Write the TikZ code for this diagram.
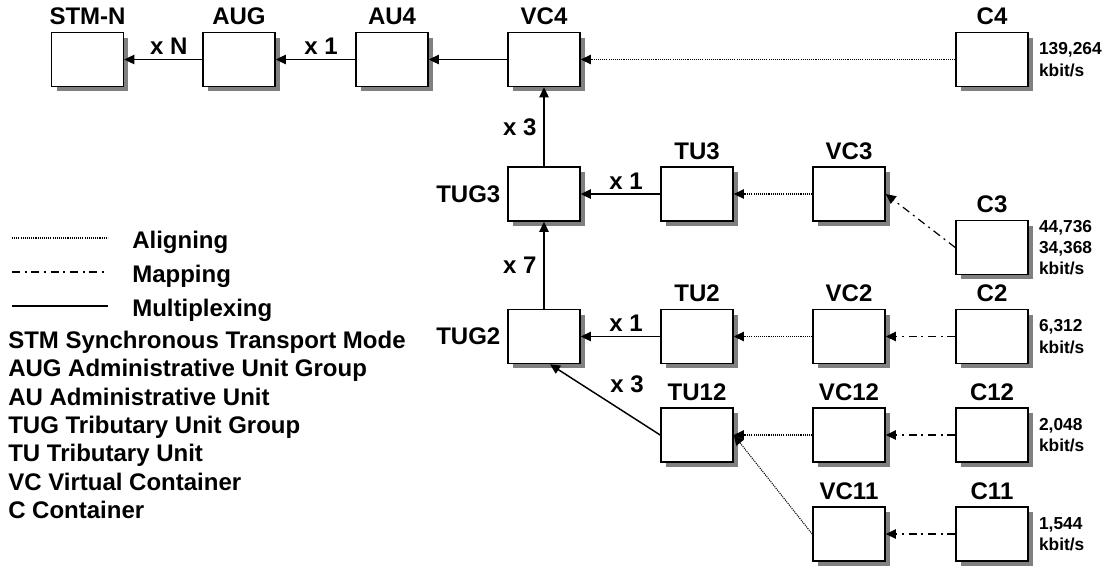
\documentclass[tikz,border=0pt]{standalone}
\usepackage{fontspec}
\setmainfont{Liberation Sans}
\usetikzlibrary{arrows.meta,calc}
\definecolor{shadowgray}{RGB}{128,128,128}
\begin{document}
\begin{tikzpicture}[x=0.75pt,y=-0.75pt,
  font=\bfseries\fontsize{18}{21}\selectfont,
  box/.style={draw, line width=1.2pt, fill=white, minimum width=54pt, minimum height=40.5pt, inner sep=0pt},
  shadowbox/.style={fill=shadowgray},
  lbl/.style={inner sep=0pt, label distance=5pt},
  rate/.style={font=\bfseries\fontsize{13}{16}\selectfont, align=left, anchor=west, inner sep=0pt},
  tip/.style={-{Triangle[length=7.5pt,width=7pt]}},
  muxln/.style={line width=1.1pt},
  alignln/.style={line width=0.8pt, dash pattern=on 0.8pt off 0.8pt},
  mapln/.style={line width=0.9pt, dash pattern=on 6pt off 3.5pt on 1.5pt off 3.5pt},
  mlab/.style={inner sep=0pt},
  leg/.style={anchor=base west, inner sep=0pt}]
\useasboundingbox (0,0) rectangle (1112,565);

% box centres
\coordinate (pSTM) at (87.5,59.5);
\coordinate (pAUG) at (239,59.5);
\coordinate (pAU4) at (392,59.5);
\coordinate (pVC4) at (544,59.5);
\coordinate (pC4) at (992,59.5);
\coordinate (pTUG3) at (544,194);
\coordinate (pTU3) at (697,194);
\coordinate (pVC3) at (849,194);
\coordinate (pC3) at (992,247.5);
\coordinate (pTUG2) at (544,336.5);
\coordinate (pTU2) at (697,336.5);
\coordinate (pVC2) at (849,336.5);
\coordinate (pC2) at (992,336.5);
\coordinate (pTU12) at (697,435);
\coordinate (pVC12) at (849,435);
\coordinate (pC12) at (992,435);
\coordinate (pVC11) at (849,534);
\coordinate (pC11) at (992,534);

% shadows (drawn first, under the boxes)
\foreach \nm in {STM,AUG,AU4,VC4,C4,TUG3,TU3,VC3,C3,TUG2,TU2,VC2,C2,TU12,VC12,C12,VC11,C11}
  \fill[shadowbox] ($(p\nm)+(-31,-22)$) rectangle ($(p\nm)+(40.5,31.5)$);

% top row
\node[box, label={[lbl]above:STM-N}] (STM) at (pSTM) {};
\node[box, label={[lbl]above:AUG}] (AUG) at (pAUG) {};
\node[box, label={[lbl]above:AU4}] (AU4) at (pAU4) {};
\node[box, label={[lbl]above:VC4}] (VC4) at (pVC4) {};
\node[box, label={[lbl]above:C4}] (C4) at (pC4) {};
% TUG3 row
\node[box, label={[lbl]left:TUG3}] (TUG3) at (pTUG3) {};
\node[box, label={[lbl]above:TU3}] (TU3) at (pTU3) {};
\node[box, label={[lbl]above:VC3}] (VC3) at (pVC3) {};
\node[box, label={[lbl]above:C3}] (C3) at (pC3) {};
% TUG2 row
\node[box, label={[lbl]left:TUG2}] (TUG2) at (pTUG2) {};
\node[box, label={[lbl]above:TU2}] (TU2) at (pTU2) {};
\node[box, label={[lbl]above:VC2}] (VC2) at (pVC2) {};
\node[box, label={[lbl]above:C2}] (C2) at (pC2) {};
% TU12 row
\node[box, label={[lbl]above:TU12}] (TU12) at (pTU12) {};
\node[box, label={[lbl]above:VC12}] (VC12) at (pVC12) {};
\node[box, label={[lbl]above:C12}] (C12) at (pC12) {};
% VC11 row
\node[box, label={[lbl]above:VC11}] (VC11) at (pVC11) {};
\node[box, label={[lbl]above:C11}] (C11) at (pC11) {};

% rates
\node[rate] (r4) at ($(C4.east)+(10,0)$) {139,264\\kbit/s};
\node[rate] (r3) at ($(C3.east)+(10,0)$) {44,736\\34,368\\kbit/s};
\node[rate] (r2) at ($(C2.east)+(10,0)$) {6,312\\kbit/s};
\node[rate] (r12) at ($(C12.east)+(10,0)$) {2,048\\kbit/s};
\node[rate] (r11) at ($(C11.east)+(10,0)$) {1,544\\kbit/s};

% multiplexing
\draw[muxln, tip] (AUG) -- node[mlab, pos=0.43, above=3pt]{x N} (STM);
\draw[muxln, tip] (AU4) -- node[mlab, pos=0.43, above=3pt]{x 1} (AUG);
\draw[muxln, tip] (VC4) -- (AU4);
\draw[muxln, tip] (TUG3) -- node[mlab, left=5pt]{x 3} (VC4);
\draw[muxln, tip] (TU3) -- node[mlab, pos=0.43, above=3pt]{x 1} (TUG3);
\draw[muxln, tip] (TUG2) -- node[mlab, left=5pt]{x 7} (TUG3);
\draw[muxln, tip] (TU2) -- node[mlab, pos=0.43, above=3pt]{x 1} (TUG2);
\coordinate (t2in) at ($(TUG2.south)+(6,0)$);
\draw[muxln, tip] (TU12.west) -- node[mlab, pos=0.5, anchor=south west, xshift=3.4pt, yshift=4.5pt]{x 3} (t2in);

% aligning
\draw[alignln, tip] (C4) -- (VC4);
\draw[alignln, tip] (VC3) -- (TU3);
\draw[alignln, tip] (VC2) -- (TU2);
\draw[alignln, tip] (VC12) -- (TU12);
\draw[alignln, tip] (VC11.west) -- (TU12.east);

% mapping
\draw[mapln, tip] (C3.west) -- (VC3.east);
\draw[mapln, tip] (C2) -- (VC2);
\draw[mapln, tip] (C12) -- (VC12);
\draw[mapln, tip] (C11) -- (VC11);

% legend
\coordinate (la1) at (12,238); \coordinate (la2) at (108,238);
\coordinate (lb1) at (12,272); \coordinate (lb2) at (108,272);
\coordinate (lc1) at (12,306); \coordinate (lc2) at (108,306);
\draw[alignln] (la1) -- (la2);
\draw[mapln] (lb1) -- (lb2);
\draw[muxln] (lc1) -- (lc2);
\node[leg] (tA) at (132,248) {Aligning};
\node[leg] (tB) at (132,282) {Mapping};
\node[leg] (tC) at (132,316) {Multiplexing};
\node[leg] (d1) at (8,348.3) {STM Synchronous Transport Mode};
\node[leg] (d2) at (8,376.7) {AUG Administrative Unit Group};
\node[leg] (d3) at (8,405) {AU Administrative Unit};
\node[leg] (d4) at (8,433.3) {TUG Tributary Unit Group};
\node[leg] (d5) at (8,461.7) {TU Tributary Unit};
\node[leg] (d6) at (8,490) {VC Virtual Container};
\node[leg] (d7) at (8,518.3) {C Container};
\end{tikzpicture}
\end{document}
